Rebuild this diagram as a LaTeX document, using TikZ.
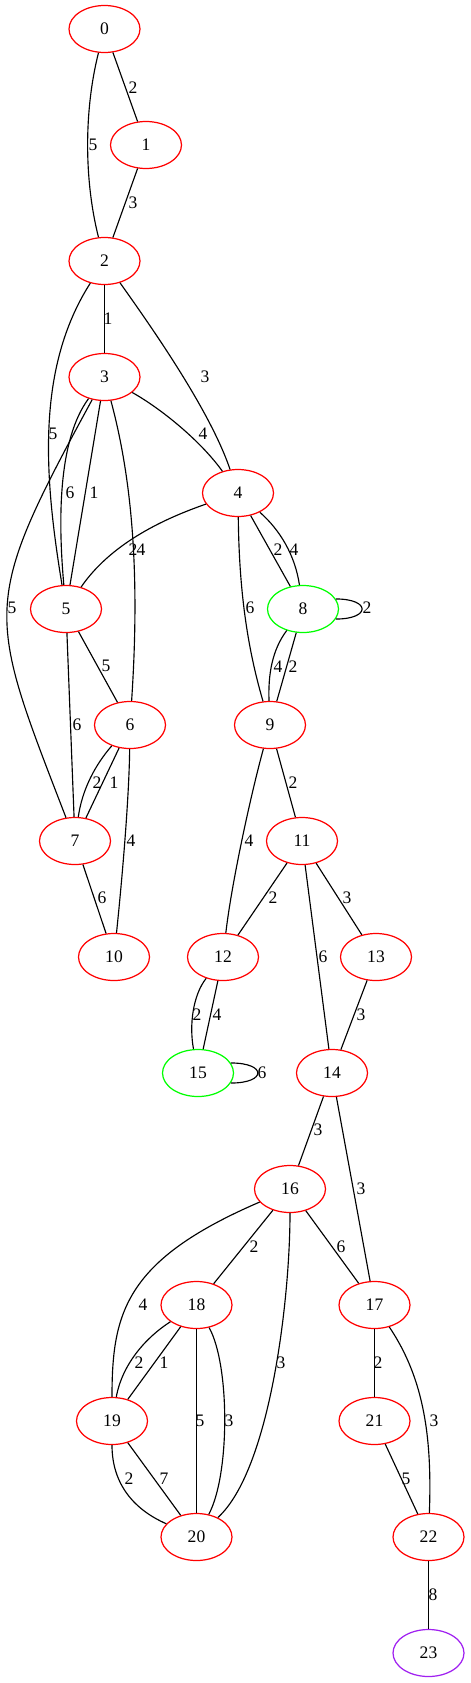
\documentclass[tikz,border=0pt]{standalone}
\usepackage{fontspec}
\setmainfont{Liberation Serif}
\usetikzlibrary{shapes.geometric}

\definecolor{gvred}{HTML}{FF0000}
\definecolor{gvgreen}{HTML}{00FF00}
\definecolor{gvpurple}{HTML}{A020F0}

\tikzset{
    vtx/.style={ellipse, draw=#1, line width=0.7pt, minimum width=1.42cm, minimum height=0.94cm,
        inner sep=0pt, font=\fontsize{10}{12}\selectfont},
    wt/.style={inner sep=0pt, font=\fontsize{10}{12}\selectfont},
    link/.style={line width=0.65pt, black}
}

\begin{document}
\begin{tikzpicture}[x=0.02cm, y=0.02cm]
    \useasboundingbox (0,0) rectangle (470,-1683);

    % Vertices
    \foreach \n/\x/\y/\c in {0/104.5/29/gvred, 1/146/145/gvred, 2/104.5/261/gvred, 3/104.5/377/gvred,
        4/238/493/gvred, 5/66/609/gvred, 8/303/609/gvgreen, 6/130/725/gvred, 9/270/725/gvred,
        7/75/841/gvred, 11/302/841/gvred, 10/114/957/gvred, 12/223/957/gvred, 13/376/957/gvred,
        15/198/1073/gvgreen, 14/332/1073/gvred, 16/290/1189/gvred, 18/196.5/1305/gvred,
        17/374.5/1305/gvred, 19/112/1421/gvred, 21/374.5/1421/gvred, 20/196.5/1537/gvred,
        22/428.5/1537/gvred, 23/428.5/1653/gvpurple} {
        \node[vtx=\c] (n\n) at (\x,-\y) {\n};
    }

    % Straight edges with weights
    \foreach \a/\b/\w/\lx/\ly in {0/1/2/133/88, 1/2/3/133/203, 2/3/1/108/319, 3/5/1/94/493,
        4/8/2/278/550, 8/9/2/293/667, 5/6/5/106/666, 5/7/6/77/725, 6/7/1/114/783,
        7/10/6/102/898, 9/11/2/293/783, 11/12/2/273/898, 11/13/3/347/898, 11/14/6/323/957,
        13/14/3/361/1015, 12/15/4/217/1015, 14/16/3/318/1130, 14/17/3/361/1189,
        16/18/2/254/1247, 16/17/6/341/1247, 18/19/1/164/1363, 18/20/5/200/1421,
        19/20/7/164/1479, 17/21/2/378/1363, 21/22/5/406/1479, 22/23/8/433/1595} {
        \draw[link] (n\a) -- (n\b);
        \node[wt] (w\a-\b-\w) at (\lx,-\ly) {\w};
    }

    % Curved edges
    \draw[link] (n0) .. controls (84,-110) and (84,-180) .. (n2);
    \node[wt] (w0-2-5) at (93,-145) {5};
    \draw[link] (n2) .. controls (150,-325) and (210,-410) .. (n4);
    \node[wt] (w2-4-3) at (205,-377) {3};
    \draw[link] (n2) .. controls (36,-368) and (44,-476) .. (n5);
    \node[wt] (w2-5-5) at (53,-434) {5};
    \draw[link] (n3) .. controls (160,-408) and (200,-440) .. (n4);
    \node[wt] (w3-4-4) at (203,-434) {4};
    \draw[link] (n3) .. controls (58,-440) and (58,-520) .. (n5);
    \node[wt] (w3-5-6) at (70,-493) {6};
    \draw[link] (n3) .. controls (135,-490) and (139,-590) .. (n6);
    \node[wt] (w3-6-4) at (141,-550) {4};
    \draw[link] (n3) .. controls (-20,-606) and (-14,-610) .. (n7);
    \node[wt] (w3-7-5) at (12,-608) {5};
    \draw[link] (n4) .. controls (160,-520) and (110,-545) .. (n5);
    \node[wt] (w4-5-2) at (133,-550) {2};
    \draw[link] (n4) .. controls (280,-530) and (295,-555) .. (n8);
    \node[wt] (w4-8-4) at (294,-550) {4};
    \draw[link] (n4) .. controls (239,-580) and (245,-640) .. (n9);
    \node[wt] (w4-9-6) at (250,-608) {6};
    \draw[link] (n8.17) .. controls +(35,0) and +(35,0) .. (n8.-17);
    \node[wt] (w8-8-2) at (367,-608) {2};
    \draw[link] (n8) .. controls (272,-650) and (268,-675) .. (n9);
    \node[wt] (w8-9-4) at (278,-667) {4};
    \draw[link] (n6) .. controls (95,-765) and (82,-790) .. (n7);
    \node[wt] (w6-7-2) at (97,-783) {2};
    \draw[link] (n6) .. controls (129,-800) and (122,-880) .. (n10);
    \node[wt] (w6-10-4) at (131,-841) {4};
    \draw[link] (n9) .. controls (252,-790) and (232,-880) .. (n12);
    \node[wt] (w9-12-4) at (249,-841) {4};
    \draw[link] (n12) .. controls (193,-995) and (189,-1025) .. (n15);
    \node[wt] (w12-15-2) at (197,-1015) {2};
    \draw[link] (n15.17) .. controls +(36,0) and +(36,0) .. (n15.-17);
    \node[wt] (w15-15-6) at (262,-1073) {6};
    \draw[link] (n16) .. controls (125,-1260) and (112,-1313) .. (n19);
    \node[wt] (w16-19-4) at (143,-1305) {4};
    \draw[link] (n16) .. controls (290,-1300) and (270,-1470) .. (n20);
    \node[wt] (w16-20-3) at (281,-1363) {3};
    \draw[link] (n18) .. controls (145,-1338) and (122,-1365) .. (n19);
    \node[wt] (w18-19-2) at (139,-1363) {2};
    \draw[link] (n18) .. controls (230,-1365) and (230,-1475) .. (n20);
    \node[wt] (w18-20-3) at (229,-1421) {3};
    \draw[link] (n19) .. controls (112,-1485) and (135,-1510) .. (n20);
    \node[wt] (w19-20-2) at (129,-1479) {2};
    \draw[link] (n17) .. controls (425,-1380) and (432,-1440) .. (n22);
    \node[wt] (w17-22-3) at (434,-1421) {3};
\end{tikzpicture}
\end{document}
